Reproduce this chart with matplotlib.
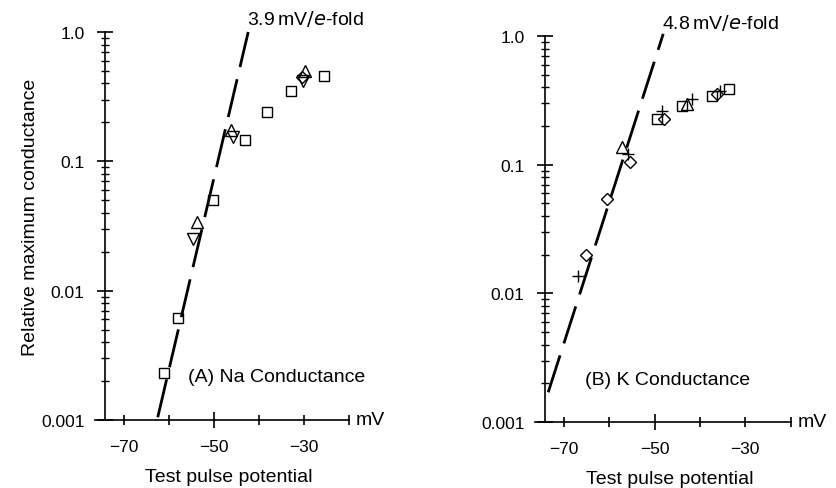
import numpy as np
import matplotlib
matplotlib.use("Agg")
import matplotlib.pyplot as plt
from matplotlib.ticker import FixedLocator, NullFormatter, LogLocator

plt.rcParams['font.family'] = ['Liberation Sans', 'DejaVu Sans']

# ---------------- data (A) Na ----------------
na_sq_x = [-61.1, -58.0, -50.2, -43.1, -38.2, -32.9, -25.6]
na_sq_y = [0.0023, 0.0062, 0.050, 0.146, 0.24, 0.349, 0.456]
na_tu_x = [-53.8, -46.2, -29.8]
na_tu_y = [0.034, 0.176, 0.50]
na_td_x = [-54.7, -45.8, -30.2]
na_td_y = [0.025, 0.155, 0.42]
na_di_x = [-30.4]
na_di_y = [0.45]
na_fit_x = [-62.5, -42.4]
na_fit_y = [0.00105, 1.0]

# ---------------- data (B) K ----------------
k_sq_x = [-49.5, -44.0, -37.3, -33.6]
k_sq_y = [0.226, 0.286, 0.342, 0.387]
k_di_x = [-65.2, -60.5, -55.4, -47.9, -36.2]
k_di_y = [0.020, 0.054, 0.105, 0.226, 0.354]
k_tu_x = [-57.2, -42.8]
k_tu_y = [0.137, 0.296]
k_pl_x = [-66.9, -55.9, -48.4, -41.7, -35.6]
k_pl_y = [0.0137, 0.121, 0.261, 0.324, 0.374]
k_fit_x = [-73.5, -48.1]
k_fit_y = [0.0017, 1.04]

xticks = [-70, -60, -50, -40, -30, -20]
xticklabels = ['\u221270', '', '\u221250', '', '\u221230', '']
yticks = [0.001, 0.01, 0.1, 1.0]
yticklabels = ['0.001', '0.01', '0.1', '1.0']

fig = plt.figure(figsize=(8.37, 4.89), dpi=100)
axA = fig.add_axes([0.1132, 0.1391, 0.3199, 0.8595])
axB = fig.add_axes([0.6387, 0.1350, 0.3220, 0.8550])

mk = dict(linestyle='none', markerfacecolor='none', markeredgecolor='black',
          markeredgewidth=1.0, zorder=3)

def style(ax, fit_x, fit_y, panel_label, slope_label, slope_xy):
    ax.set_yscale('log')
    ax.set_xlim(-76.5, -17)
    ax.set_ylim(0.001, 10 ** 0.25)
    for s in ['top', 'right']:
        ax.spines[s].set_visible(False)
    ax.spines['left'].set_position(('data', -74.2))
    ax.spines['left'].set_bounds(0.001, 1.0)
    ax.spines['bottom'].set_bounds(-76.4, -20)
    for s in ['left', 'bottom']:
        ax.spines[s].set_linewidth(1.2)
    ax.patch.set_visible(False)
    ax.yaxis.set_major_locator(FixedLocator(yticks))
    ax.set_yticklabels(yticklabels)
    ax.yaxis.set_minor_locator(LogLocator(base=10, subs=np.arange(2, 10)))
    ax.yaxis.set_minor_formatter(NullFormatter())
    ax.tick_params(axis='y', which='major', direction='inout', length=11.5,
                   width=1.2, labelsize=12.5, pad=9)
    ax.tick_params(axis='y', which='minor', direction='inout', length=6, width=1.0)
    ax.xaxis.set_major_locator(FixedLocator(xticks))
    ax.set_xticklabels(xticklabels)
    ax.xaxis.set_minor_locator(FixedLocator([]))
    ax.tick_params(axis='x', which='major', direction='inout', length=7,
                   width=1.2, labelsize=12.5, pad=10)
    ax.text(-18.5, 0.001, 'mV', fontsize=14, va='center', ha='left')
    ax.text(0.5, -0.135, 'Test pulse potential', transform=ax.transAxes,
            fontsize=14, ha='center', va='center')
    line, = ax.plot(fit_x, fit_y, color='black', linewidth=2.0, zorder=2)
    line.set_dashes([14, 4.5])
    ax.text(panel_label[0], panel_label[1], panel_label[2], fontsize=14,
            ha='left', va='center')
    ax.text(slope_xy[0], slope_xy[1], slope_label, fontsize=14,
            ha='left', va='center')

style(axA, na_fit_x, na_fit_y, (-55.8, 0.00215, '(A) Na Conductance'),
      r'3.9$\,$mV$/$$\it{e}$-fold', (-42.6, 1.28))
style(axB, k_fit_x, k_fit_y, (-65.3, 0.00215, '(B) K Conductance'),
      r'4.8$\,$mV$/$$\it{e}$-fold', (-48.4, 1.28))

for ax in (axA, axB):
    ticks = ax.xaxis.get_major_ticks()
    ticks[2].tick1line.set_markersize(11.5)

axA.set_ylabel('Relative maximum conductance', fontsize=14)
axA.yaxis.set_label_coords(-0.21, 0.485)

axA.plot(na_sq_x, na_sq_y, marker='s', markersize=6.5, **mk)
axA.plot(na_tu_x, na_tu_y, marker='^', markersize=8, **mk)
axA.plot(na_td_x, na_td_y, marker='v', markersize=8, **mk)
axA.plot(na_di_x, na_di_y, marker='D', markersize=6.5, **mk)

axB.plot(k_sq_x, k_sq_y, marker='s', markersize=6.5, **mk)
axB.plot(k_di_x, k_di_y, marker='D', markersize=6.5, **mk)
axB.plot(k_tu_x, k_tu_y, marker='^', markersize=8, **mk)
axB.plot(k_pl_x, k_pl_y, marker='+', markersize=8, **mk)

fig.savefig('out.png', dpi=100)
